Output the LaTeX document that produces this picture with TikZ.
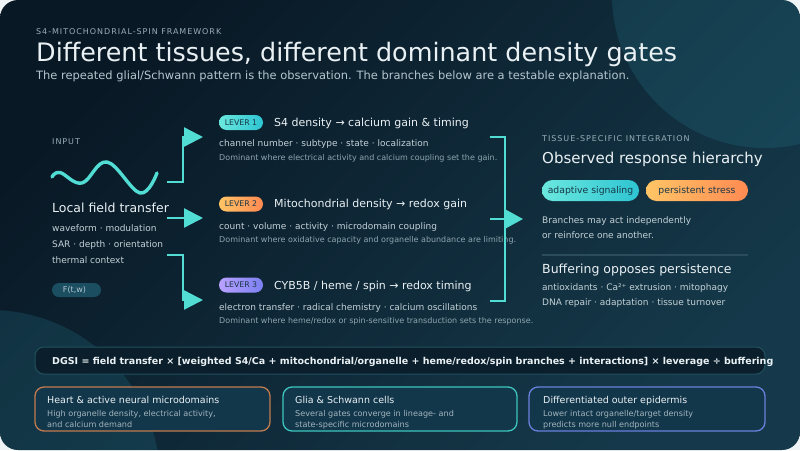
\documentclass[tikz,border=0pt]{standalone}
\usepackage{fontspec}
\setmainfont{DejaVu Sans}
\newfontfamily\spacedfont[LetterSpace=12]{DejaVu Sans}
\usetikzlibrary{arrows.meta,positioning,calc}
\definecolor{pagebg}{HTML}{EEF3F6}
\definecolor{bgA}{HTML}{091825}
\definecolor{bgB}{HTML}{15394A}
\definecolor{circ}{HTML}{2A8AA0}
\definecolor{accent}{HTML}{52DDD4}
\definecolor{txtmain}{HTML}{EAF1F4}
\definecolor{txtsub}{HTML}{B4C6CE}
\definecolor{txtbody}{HTML}{C3D1D7}
\definecolor{txtnote}{HTML}{8FA6B0}
\definecolor{txtcard}{HTML}{A3B5BE}
\definecolor{txtlabel}{HTML}{98AEB8}
\definecolor{pilltext}{HTML}{173646}
\definecolor{tealA}{HTML}{6AE8DE}
\definecolor{tealB}{HTML}{2EC4D2}
\definecolor{orangeA}{HTML}{FFC566}
\definecolor{orangeB}{HTML}{FF8A52}
\definecolor{purpleA}{HTML}{B9A2FF}
\definecolor{purpleB}{HTML}{7B80F2}
\definecolor{chipfill}{HTML}{1B4E61}
\definecolor{rulecol}{HTML}{2A4C5C}
\definecolor{boxfill}{HTML}{0A1E2B}
\definecolor{boxline}{HTML}{22505F}
\definecolor{cardfill}{HTML}{12364A}
\definecolor{heartline}{HTML}{C27B4F}
\definecolor{gliline}{HTML}{3EC5BD}
\definecolor{epiline}{HTML}{6A80DC}
\newcommand{\fsz}[1]{\fontsize{#1}{#1}\selectfont}

\begin{document}
\begin{tikzpicture}[x=1pt,y=-1pt,
  txt/.style={inner sep=0,anchor=base west},
  link/.style={draw=accent,line width=2.4pt},
  tip/.style={-{Triangle[length=19pt,width=19pt]}},
  pill/.style={rounded corners=7.5pt,minimum height=15pt,minimum width=44pt,inner sep=0,text=pilltext,font=\fsz{7.8}},
  chip/.style={rounded corners=10.5pt,minimum height=21pt,inner sep=0,text=pilltext,font=\fsz{9.3}},
  card/.style={fill=cardfill,line width=1.3pt,rounded corners=9pt}]
\useasboundingbox (0,0) rectangle (800,450);
\fill[pagebg] (0,0) rectangle (800,450);
\shade[top color=bgA,bottom color=bgB,shading angle=45,rounded corners=18pt] (0,0) rectangle (800,450);
\begin{scope}
\clip[rounded corners=18pt] (0,0) rectangle (800,450);
\fill[circ,opacity=.2] (765,-5) circle[radius=153];
\fill[circ,opacity=.2] (-10,480) circle[radius=170];
\end{scope}

\node[txt,text=txtlabel,font={\spacedfont\fsz{8}}] (kicker) at (36,34) {S4-MITOCHONDRIAL-SPIN FRAMEWORK};
\node[txt,text=txtmain,font=\fsz{25.4}] (title) at (36,61) {Different tissues, different dominant density gates};
\node[txt,text=txtsub,font=\fsz{11.45}] (subtitle) at (36,79) {The repeated glial/Schwann pattern is the observation. The branches below are a testable explanation.};

\node[txt,text=txtlabel,font={\spacedfont\fsz{8}}] (inlabel) at (52,144.6) {INPUT};
\draw[accent,line width=3.4pt,line cap=round] plot[smooth,tension=.65] coordinates {(52,177) (60,172.5) (82,183) (107,162) (140,193) (157,173)};
\node[txt,text=txtmain,font=\fsz{12.5}] (field) at (52,212.5) {Local field transfer};
\node[txt,text=txtbody,font=\fsz{9}] (field1) at (52,231.2) {waveform · modulation};
\node[txt,text=txtbody,font=\fsz{9}] (field2) at (52,247.2) {SAR · depth · orientation};
\node[txt,text=txtbody,font=\fsz{9}] (field3) at (52,263.2) {thermal context};
\node[fill=chipfill,rounded corners=7pt,minimum width=49pt,minimum height=14pt,inner sep=0,text=txtsub,font=\fsz{8}] (ftw) at (76.5,290) {\hspace{-4pt}F(t,w)};

\coordinate (out1) at (167,182);
\coordinate (out2) at (167,218);
\coordinate (out3) at (167,255);
\coordinate (knee1) at (183,137);
\coordinate (knee3) at (183,300);
\coordinate (in1) at (203,137);
\coordinate (in2) at (203,218);
\coordinate (in3) at (203,300);
\draw[link,tip] (out1) -| (knee1) -- (in1);
\draw[link,tip] (out2) -- (in2);
\draw[link,tip] (out3) -| (knee3) -- (in3);

\node[pill,left color=tealA,right color=tealB] (lev1) at (241,122.5) {LEVER 1};
\node[txt,text=txtmain,font=\fsz{11}] (lev1title) at (274,126.7) {S4 density → calcium gain \& timing};
\node[txt,text=txtbody,font=\fsz{9}] (lev1sub) at (219,146.2) {channel number · subtype · state · localization};
\node[txt,text=txtnote,font=\fsz{8}] (lev1note) at (219,160.9) {Dominant where electrical activity and calcium coupling set the gain.};

\node[pill,left color=orangeA,right color=orangeB] (lev2) at (241,204) {LEVER 2};
\node[txt,text=txtmain,font=\fsz{11}] (lev2title) at (274,207.5) {Mitochondrial density → redox gain};
\node[txt,text=txtbody,font=\fsz{9}] (lev2sub) at (219,229.2) {count · volume · activity · microdomain coupling};
\node[txt,text=txtnote,font=\fsz{8}] (lev2note) at (219,242.9) {Dominant where oxidative capacity and organelle abundance are limiting.};

\node[pill,left color=purpleA,right color=purpleB] (lev3) at (241,285) {LEVER 3};
\node[txt,text=txtmain,font=\fsz{11}] (lev3title) at (274,289) {CYB5B / heme / spin → redox timing};
\node[txt,text=txtbody,font=\fsz{9}] (lev3sub) at (219,310.2) {electron transfer · radical chemistry · calcium oscillations};
\node[txt,text=txtnote,font=\fsz{8}] (lev3note) at (219,323.9) {Dominant where heme/redox or spin-sensitive transduction sets the response.};

\coordinate (join1) at (490,137);
\coordinate (join2) at (490,219);
\coordinate (join3) at (490,301);
\coordinate (spine) at (505,219);
\coordinate (merge) at (523,219);
\draw[link] (join1) -| (spine) |- (join3);
\draw[link,-{Triangle[length=18pt,width=19pt]}] (join2) -- (merge);

\node[txt,text=txtlabel,font={\spacedfont\fsz{8}}] (integ) at (542,141.7) {TISSUE-SPECIFIC INTEGRATION};
\node[txt,text=txtmain,font=\fsz{15}] (hier) at (542,163.4) {Observed response hierarchy};
\node[chip,minimum width=97pt,left color=tealA,right color=tealB] (adapt) at (590.5,190.5) {adaptive signaling};
\node[chip,minimum width=102pt,left color=orangeA,right color=orangeB] (stress) at (697,190.5) {persistent stress};
\node[txt,text=txtbody,font=\fsz{9}] (branch1) at (542,223.2) {Branches may act independently};
\node[txt,text=txtbody,font=\fsz{9}] (branch2) at (542,238.2) {or reinforce one another.};
\draw[rulecol,line width=1.2pt] (542,255) -- (748,255);
\node[txt,text=txtmain,font=\fsz{12.5}] (buffer) at (542,273.5) {Buffering opposes persistence};
\node[txt,text=txtbody,font=\fsz{9}] (buffer1) at (542,290.2) {antioxidants · Ca²⁺ extrusion · mitophagy};
\node[txt,text=txtbody,font=\fsz{9}] (buffer2) at (542,305.2) {DNA repair · adaptation · tissue turnover};

\draw[fill=boxfill,draw=boxline,line width=1pt,rounded corners=9pt] (35,347) rectangle (765,374);
\node[txt,text=txtmain,font=\bfseries\fsz{9.5}] (dgsi) at (52,364.5) {DGSI = field transfer × [weighted S4/Ca + mitochondrial/organelle + heme/redox/spin branches + interactions] × leverage ÷ buffering};

\draw[card,draw=heartline] (35,387) rectangle (270,431);
\node[txt,text=txtmain,font=\fsz{9.5}] (heart) at (47,403.4) {Heart \& active neural microdomains};
\node[txt,text=txtcard,font=\fsz{8.1}] (heart1) at (47,416.9) {High organelle density, electrical activity,};
\node[txt,text=txtcard,font=\fsz{8.1}] (heart2) at (47,427.2) {and calcium demand};

\draw[card,draw=gliline] (283,387) rectangle (517,431);
\node[txt,text=txtmain,font=\fsz{9.5}] (glia) at (295,403.4) {Glia \& Schwann cells};
\node[txt,text=txtcard,font=\fsz{8.1}] (glia1) at (295,416.9) {Several gates converge in lineage- and};
\node[txt,text=txtcard,font=\fsz{8.1}] (glia2) at (295,427.2) {state-specific microdomains};

\draw[card,draw=epiline] (529,387) rectangle (765,431);
\node[txt,text=txtmain,font=\fsz{9.5}] (epi) at (543,403.4) {Differentiated outer epidermis};
\node[txt,text=txtcard,font=\fsz{8.1}] (epi1) at (543,416.9) {Lower intact organelle/target density};
\node[txt,text=txtcard,font=\fsz{8.1}] (epi2) at (543,427.2) {predicts more null endpoints};
\end{tikzpicture}
\end{document}
